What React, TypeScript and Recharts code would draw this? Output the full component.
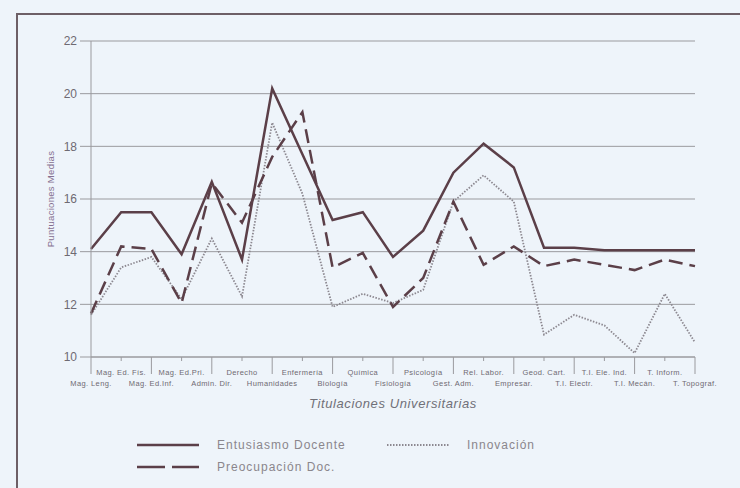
import React from 'react';
import { LineChart, Line, XAxis, YAxis, CartesianGrid } from 'recharts';

const categories = [
  'Mag. Leng.', 'Mag. Ed. Fís.', 'Mag. Ed.Inf.', 'Mag. Ed.Pri.', 'Admin. Dir.', 'Derecho',
  'Humanidades', 'Enfermería', 'Biología', 'Química', 'Fisiología', 'Psicología',
  'Gest. Adm.', 'Rel. Labor.', 'Empresar.', 'Geod. Cart.', 'T.I. Electr.', 'T.I. Ele. Ind.',
  'T.I. Mecán.', 'T. Inform.', 'T. Topograf.',
];

const entusiasmo = [14.1, 15.5, 15.5, 13.9, 16.65, 13.7, 20.2, 17.7, 15.2, 15.5, 13.8, 14.8, 17.0, 18.1, 17.2, 14.15, 14.15, 14.05, 14.05, 14.05, 14.05];
const innovacion = [11.6, 13.4, 13.8, 12.2, 14.5, 12.3, 18.9, 16.2, 11.9, 12.4, 12.05, 12.55, 15.9, 16.9, 15.9, 10.85, 11.6, 11.2, 10.15, 12.4, 10.55];
const preocupacion = [11.65, 14.2, 14.1, 12.05, 16.6, 15.1, 17.6, 19.3, 13.4, 13.95, 11.9, 13.0, 15.9, 13.5, 14.2, 13.45, 13.7, 13.5, 13.3, 13.7, 13.45];

const yTicks = [10, 12, 14, 16, 18, 20, 22];
const seriesNames = ['Entusiasmo Docente', 'Innovación', 'Preocupación Doc.'];

const data = categories.map((c, i) => ({
  cat: c,
  entusiasmo: entusiasmo[i],
  innovacion: innovacion[i],
  preocupacion: preocupacion[i],
}));

const LINE = '#5b3f48';
const DOT = '#8c8890';
const GRID = '#9a9a9e';
const TEXT = '#6e6a72';

const XTick = (props: any) => {
  const { x, y, payload } = props;
  const i = payload && payload.index != null ? payload.index : props.index;
  const even = i % 2 === 0;
  return (
    <g>
      <line x1={x} x2={x} y1={y} y2={y + (even ? 17 : 4)} stroke={GRID} strokeWidth={1} />
      <text x={x} y={y + (even ? 29 : 18)} textAnchor="middle" fontSize={7.5} fill={TEXT}
        fontFamily="Arial, 'Liberation Sans', sans-serif" letterSpacing={0.4}>
        {payload.value}
      </text>
    </g>
  );
};

const XLabel = (props: any) => {
  const vb = props.viewBox || {};
  return (
    <text x={vb.x + vb.width / 2} y={vb.y + 51} textAnchor="middle" fontSize={13} fontStyle="italic"
      fill="#707078" fontFamily="Arial, 'Liberation Sans', sans-serif" letterSpacing={0.6}>
      Titulaciones Universitarias
    </text>
  );
};

const YLabel = (props: any) => {
  const vb = props.viewBox || {};
  const cx = 50;
  const cy = vb.y + vb.height / 2;
  return (
    <text x={cx} y={cy} textAnchor="middle" dominantBaseline="central" transform={`rotate(-90, ${cx}, ${cy})`}
      fontSize={9.5} fill="#857090" fontFamily="Arial, 'Liberation Sans', sans-serif" letterSpacing={0.3}>
      Puntuaciones Medias
    </text>
  );
};

const legendItems = [
  { name: seriesNames[0], dash: undefined as string | undefined, color: LINE, width: 2.5, left: 137, top: 445 },
  { name: seriesNames[1], dash: '1.5 1.5', color: DOT, width: 1.8, left: 387, top: 445 },
  { name: seriesNames[2], dash: '28 7', color: LINE, width: 2.5, left: 137, top: 467 },
];

export default function App() {
  return (
    <div style={{ position: 'absolute', left: 0, top: 0, width: 740, height: 488, background: '#eef4fa', overflow: 'hidden' }}>
      <div style={{ position: 'absolute', left: 16, top: 13, width: 740, height: 488, borderTop: '2px solid #6d5f66', borderLeft: '2px solid #6d5f66' }} />
      <div style={{ position: 'absolute', left: 0, top: 0 }}>
        <LineChart width={740} height={488} data={data} margin={{ top: 41, right: 45, left: 0, bottom: 0 }}>
          <CartesianGrid vertical={false} stroke={GRID} strokeWidth={1} />
          <XAxis dataKey="cat" scale="point" interval={0} height={131} tickSize={0} tickMargin={0} tickLine={false}
            axisLine={{ stroke: GRID, strokeWidth: 1 }} tick={<XTick />} label={<XLabel />} />
          <YAxis domain={[10, 22]} ticks={yTicks} width={91} tickSize={11} tickMargin={3}
            tickLine={{ stroke: GRID }} axisLine={{ stroke: GRID }}
            tick={{ fontSize: 12, fill: TEXT, fontFamily: "Arial, 'Liberation Sans', sans-serif" }}
            label={<YLabel />} />
          <Line dataKey="innovacion" name={seriesNames[1]} stroke={DOT} strokeWidth={1.8} strokeDasharray="1.5 1.5" dot={false} isAnimationActive={false} />
          <Line dataKey="preocupacion" name={seriesNames[2]} stroke={LINE} strokeWidth={2.5} strokeDasharray="14 7" dot={false} isAnimationActive={false} />
          <Line dataKey="entusiasmo" name={seriesNames[0]} stroke={LINE} strokeWidth={2.5} dot={false} isAnimationActive={false} />
        </LineChart>
      </div>
      {legendItems.map((it) => (
        <div key={it.name} style={{ position: 'absolute', left: it.left, top: it.top - 8, height: 16, display: 'flex', alignItems: 'center' }}>
          <svg width={62} height={16}>
            <line x1={0} x2={62} y1={8} y2={8} stroke={it.color} strokeWidth={it.width} strokeDasharray={it.dash} />
          </svg>
          <span style={{ marginLeft: 18, fontSize: 12, color: '#8a868c', fontFamily: "Arial, 'Liberation Sans', sans-serif", letterSpacing: 1 }}>{it.name}</span>
        </div>
      ))}
    </div>
  );
}
